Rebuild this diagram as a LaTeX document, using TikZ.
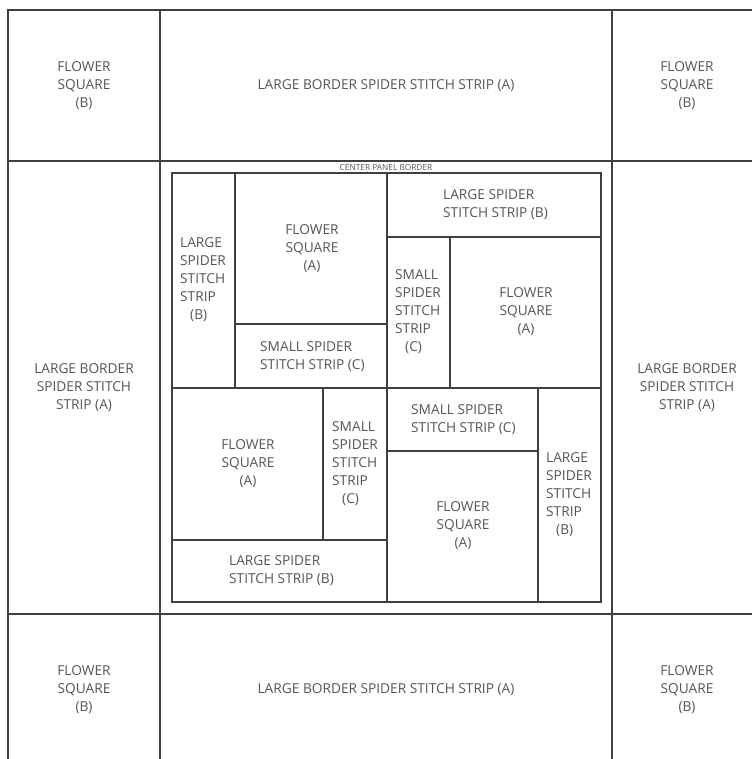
\documentclass[tikz,border=0pt]{standalone}
\usepackage{fontspec}
\setmainfont{Open Sans}
\definecolor{ln}{HTML}{404040}
\definecolor{tx}{HTML}{555555}
\tikzset{
  grid/.style={draw=ln, line width=1.15pt},
  lbl/.style={text=tx, font=\fontsize{13.7}{18}\selectfont, inner sep=0pt, align=center},
  lbll/.style={lbl, align=left, anchor=west},
  tiny/.style={text=tx, font=\fontsize{8.3}{9}\selectfont, inner sep=0pt}
}
\begin{document}
\begin{tikzpicture}[x=1pt,y=-1pt]
\useasboundingbox (0,0) rectangle (752,759);
% outer grid
\draw[grid] (8,759) -- (8,10) -- (752,10);
\draw[grid] (160,10) -- (160,759);
\draw[grid] (612,10) -- (612,759);
\draw[grid] (8,161) -- (752,161);
\draw[grid] (8,614) -- (752,614);
% centre panel
\draw[grid] (172,173) rectangle (601,602);
\draw[grid] (235,173) -- (235,388);
\draw[grid] (235,324) -- (387,324);
\draw[grid] (387,173) -- (387,602);
\draw[grid] (172,388) -- (601,388);
\draw[grid] (387,237) -- (601,237);
\draw[grid] (450,237) -- (450,388);
\draw[grid] (323,388) -- (323,540);
\draw[grid] (172,540) -- (387,540);
\draw[grid] (387,451) -- (538,451);
\draw[grid] (538,388) -- (538,602);
% outer labels
\node[lbl] (tl) at (84,86) {FLOWER\\SQUARE\\(B)};
\node[lbl] (tc) at (386,86) {LARGE BORDER SPIDER STITCH STRIP (A)};
\node[lbl] (tr) at (687,86) {FLOWER\\SQUARE\\(B)};
\node[lbl] (ml) at (84,388) {LARGE BORDER\\SPIDER STITCH\\STRIP (A)};
\node[lbl] (mr) at (687,388) {LARGE BORDER\\SPIDER STITCH\\STRIP (A)};
\node[lbl] (bl) at (84,690) {FLOWER\\SQUARE\\(B)};
\node[lbl] (bc) at (386,690) {LARGE BORDER SPIDER STITCH STRIP (A)};
\node[lbl] (br) at (687,690) {FLOWER\\SQUARE\\(B)};
\node[tiny] (cpb) at (386,168) {CENTER PANEL BORDER};
% inner labels
\node[lbll] (i1) at (180,280) {LARGE\\SPIDER\\STITCH\\STRIP\\\hspace*{10pt}(B)};
\node[lbl] (i2) at (312,249) {FLOWER\\SQUARE\\(A)};
\node[lbll] (i3) at (260,357) {SMALL SPIDER\\STITCH STRIP (C)};
\node[lbll] (i4) at (443,205) {LARGE SPIDER\\STITCH STRIP (B)};
\node[lbll] (i5) at (395,312) {SMALL\\SPIDER\\STITCH\\STRIP\\\hspace*{10pt}(C)};
\node[lbl] (i6) at (526,312) {FLOWER\\SQUARE\\(A)};
\node[lbl] (i7) at (248,464) {FLOWER\\SQUARE\\(A)};
\node[lbll] (i8) at (332,464) {SMALL\\SPIDER\\STITCH\\STRIP\\\hspace*{10pt}(C)};
\node[lbll] (i9) at (229,571) {LARGE SPIDER\\STITCH STRIP (B)};
\node[lbll] (i10) at (411,420) {SMALL SPIDER\\STITCH STRIP (C)};
\node[lbl] (i11) at (463,526) {FLOWER\\SQUARE\\(A)};
\node[lbll] (i12) at (546,495) {LARGE\\SPIDER\\STITCH\\STRIP\\\hspace*{10pt}(B)};
\end{tikzpicture}
\end{document}
